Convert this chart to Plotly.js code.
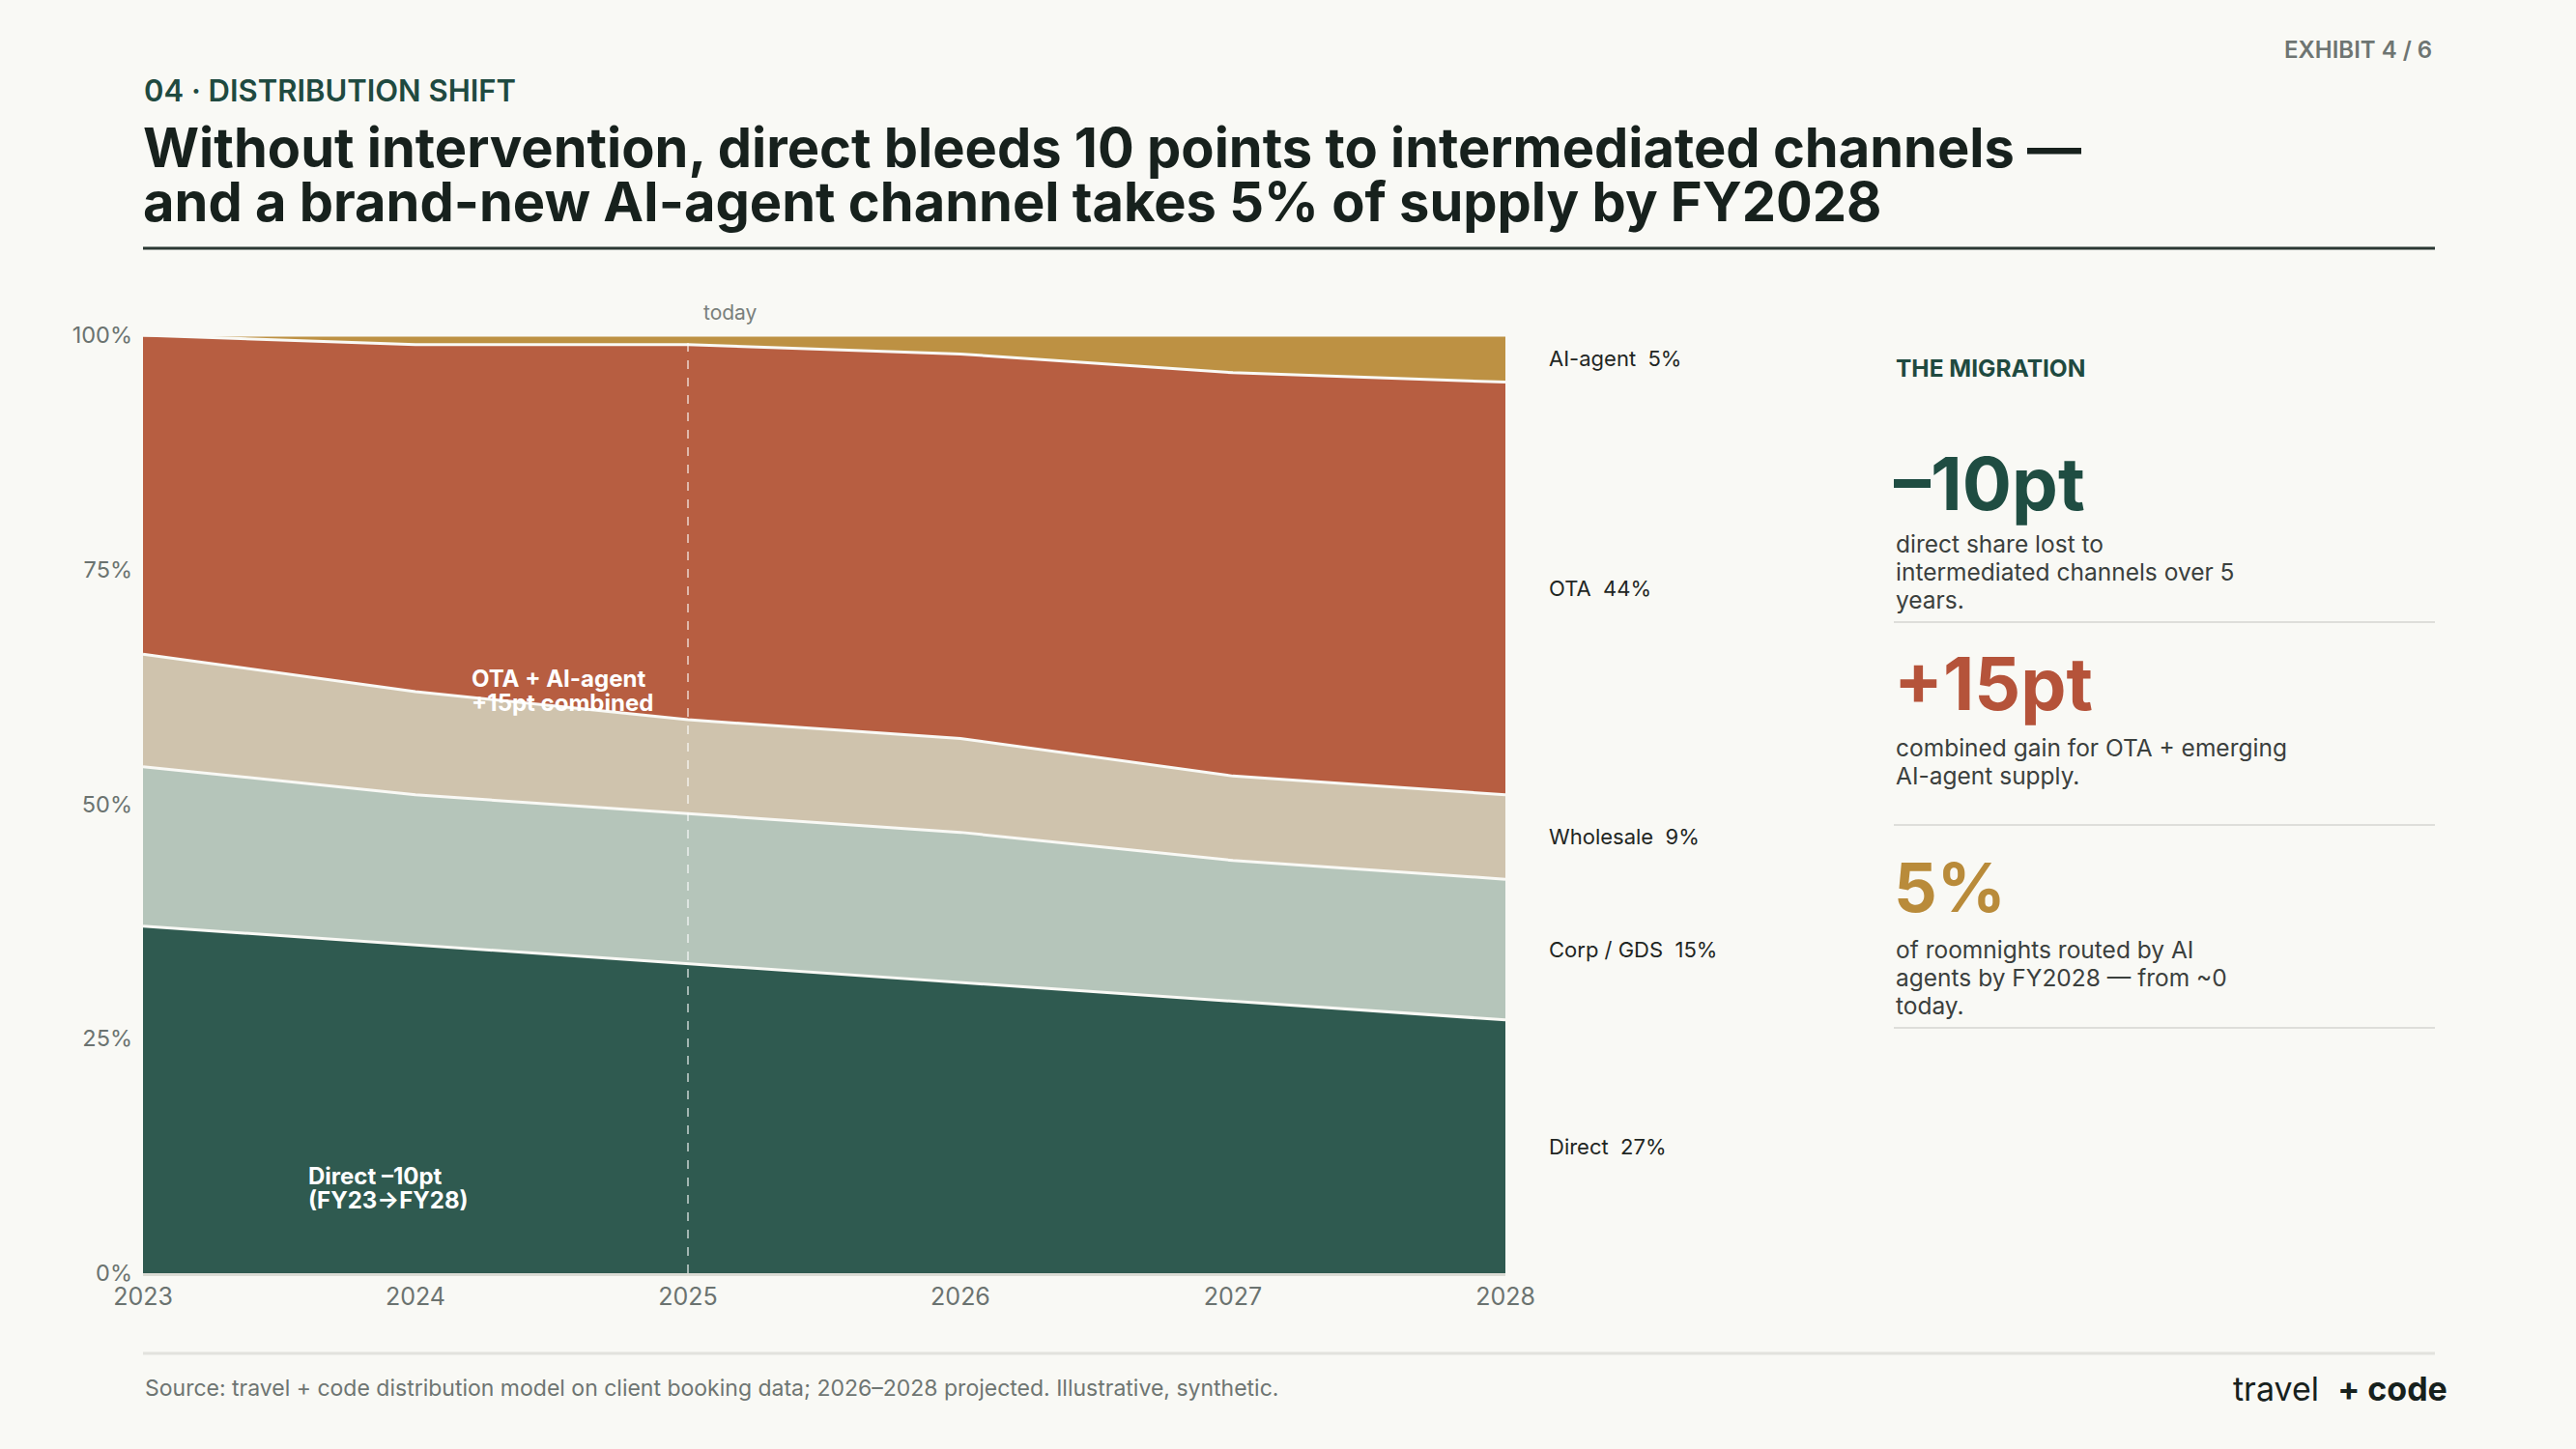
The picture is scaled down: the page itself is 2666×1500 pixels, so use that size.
<!DOCTYPE html>
<html>
<head>
<meta charset="utf-8">
<script src="https://cdn.plot.ly/plotly-3.0.1.min.js"></script>
<style>
  html, body { margin: 0; padding: 0; background: #f9f9f5; }
  #chart { width: 2666px; height: 1500px; }
</style>
</head>
<body>
<div id="chart"></div>
<script>
// Channel mix of roomnights, FY2023–FY2028 (share of total, %)
const years = [2023, 2024, 2025, 2026, 2027, 2028];
const direct    = [37, 35, 33, 31, 29, 27];
const corpGds   = [17, 16, 16, 16, 15, 15];
const wholesale = [12, 11, 10, 10, 9, 9];
const ota       = [34, 37, 40, 41, 43, 44];
const aiAgent   = [0, 1, 1, 2, 4, 5];

const seriesNames  = ['Direct', 'Corp / GDS', 'Wholesale', 'OTA', 'AI-agent'];
const seriesValues = [direct, corpGds, wholesale, ota, aiAgent];
const seriesColors = ['#2f5a50', '#b5c5ba', '#cfc3ad', '#b75e41', '#bd9143'];

const yTickVals = [0, 25, 50, 75, 100];
const yTickText = ['0%', '25%', '50%', '75%', '100%'];
const todayYear = 2025;

const W = 2666, H = 1500;
const BG = '#f9f9f5';
const FONT = 'Inter, "Noto Sans", sans-serif';
const px = x => x / W;
const py = y => 1 - y / H;

// plot area in pixels
const plotL = 148, plotR = 1558, plotT = 347, plotB = 1318;

const traces = seriesNames.map((name, i) => ({
  type: 'scatter',
  mode: 'lines',
  name: name,
  x: years,
  y: seriesValues[i],
  stackgroup: 'share',
  line: { color: BG, width: 3, shape: 'linear' },
  fillcolor: seriesColors[i],
  hoverinfo: 'skip'
}));

const last = years.length - 1;
const endLabels = [];
let base = 0;
seriesNames.forEach((name, i) => {
  const v = seriesValues[i][last];
  endLabels.push({
    xref: 'paper', yref: 'y',
    x: px(1601), y: base + v / 2,
    xanchor: 'left', yanchor: 'middle',
    text: name + '\u00a0 ' + v + '%',
    showarrow: false,
    font: { family: FONT, size: 22, color: '#1f2623' }
  });
  base += v;
});

function txt(x, y, text, size, color, weight, anchor) {
  return {
    xref: 'paper', yref: 'paper',
    x: px(x), y: py(y),
    xanchor: anchor || 'left', yanchor: 'middle',
    text: text, showarrow: false,
    font: { family: FONT, size: size, color: color, weight: weight || 400 }
  };
}

const annotations = [
  txt(2519, 51, 'EXHIBIT 4 / 6', 24, '#6e7572', 600, 'right'),
  txt(147, 94, '04 · DISTRIBUTION SHIFT', 31, '#1f4a40', 600),
  txt(146, 153, 'Without intervention, direct bleeds 10 points to intermediated channels —', 56, '#17211d', 700),
  txt(146, 209, 'and a brand-new AI-agent channel takes 5% of supply by FY2028', 56, '#17211d', 700),

  // today marker label
  { xref: 'x', yref: 'paper', x: todayYear, y: py(324), xanchor: 'left', yanchor: 'middle',
    xshift: 14, text: 'today', showarrow: false,
    font: { family: FONT, size: 21, color: '#7a807c' } },

  // in-chart callouts
  { xref: 'x', yref: 'y', x: 2024.2, y: 63.4, xanchor: 'left', yanchor: 'middle',
    text: 'OTA + AI-agent', showarrow: false,
    font: { family: FONT, size: 24, color: '#ffffff', weight: 700 } },
  { xref: 'x', yref: 'y', x: 2024.2, y: 60.8, xanchor: 'left', yanchor: 'middle',
    text: '+15pt combined', showarrow: false,
    font: { family: FONT, size: 24, color: '#ffffff', weight: 700 } },
  { xref: 'x', yref: 'y', x: 2023.6, y: 10.4, xanchor: 'left', yanchor: 'middle',
    text: 'Direct –10pt', showarrow: false,
    font: { family: FONT, size: 24, color: '#ffffff', weight: 700 } },
  { xref: 'x', yref: 'y', x: 2023.6, y: 7.8, xanchor: 'left', yanchor: 'middle',
    text: '(FY23→FY28)', showarrow: false,
    font: { family: FONT, size: 24, color: '#ffffff', weight: 700 } },

  // side panel
  txt(1960, 381, 'THE MIGRATION', 24.5, '#1f4a40', 700),
  txt(1958, 500, '–10pt', 76, '#1f4d42', 700),
  txt(1960, 563, 'direct share lost to', 24.5, '#3b403d'),
  txt(1960, 592, 'intermediated channels over 5', 24.5, '#3b403d'),
  txt(1960, 621, 'years.', 24.5, '#3b403d'),
  txt(1958, 707, '+15pt', 75, '#b5533a', 700),
  txt(1960, 774, 'combined gain for OTA + emerging', 24.5, '#3b403d'),
  txt(1960, 803, 'AI-agent supply.', 24.5, '#3b403d'),
  txt(1958, 918, '5%', 70, '#b98b3a', 700),
  txt(1960, 983, 'of roomnights routed by AI', 24.5, '#3b403d'),
  txt(1960, 1012, 'agents by FY2028 — from ~0', 24.5, '#3b403d'),
  txt(1960, 1041, 'today.', 24.5, '#3b403d'),

  // footer
  txt(148, 1437, 'Source: travel + code distribution model on client booking data; 2026–2028 projected. Illustrative, synthetic.', 23, '#6e7572'),
  txt(2535, 1437, 'travel\u00a0 <b>+ code</b>', 34, '#17211d', 400, 'right')
].concat(endLabels);

function hline(x0, x1, y, color, width) {
  return { type: 'line', xref: 'paper', yref: 'paper',
    x0: px(x0), x1: px(x1), y0: py(y), y1: py(y),
    line: { color: color, width: width } };
}

const shapes = [
  hline(148, 2520, 257, '#2b3833', 3),
  hline(1960, 2520, 644, '#dededa', 2),
  hline(1960, 2520, 854, '#dededa', 2),
  hline(1960, 2520, 1064, '#dededa', 2),
  hline(148, 2520, 1401, '#e2e2dd', 3),
  { type: 'line', xref: 'x', yref: 'y', x0: todayYear, x1: todayYear, y0: 0, y1: 100,
    line: { color: 'rgba(255,255,255,0.75)', width: 1.5, dash: 'dash' }, layer: 'above' }
];

const layout = {
  width: W, height: H,
  margin: { l: 0, r: 0, t: 0, b: 0 },
  paper_bgcolor: BG, plot_bgcolor: BG,
  showlegend: false,
  font: { family: FONT },
  xaxis: {
    domain: [px(plotL), px(plotR)],
    range: [2023, 2028],
    tickvals: years,
    ticktext: years.map(String),
    showgrid: false, zeroline: false,
    showline: true, linecolor: '#dcdcd5', linewidth: 3,
    ticks: '', ticklen: 0,
    tickfont: { family: FONT, size: 25, color: '#6b7370' },
    fixedrange: true
  },
  yaxis: {
    domain: [py(plotB), py(plotT)],
    range: [0, 100],
    tickvals: yTickVals,
    ticktext: yTickText,
    showgrid: false, zeroline: false, showline: false,
    ticks: '', ticklen: 0,
    ticklabelstandoff: 10,
    tickfont: { family: FONT, size: 23.5, color: '#6b7370' },
    fixedrange: true
  },
  annotations: annotations,
  shapes: shapes
};

Plotly.newPlot('chart', traces, layout, { staticPlot: true, displayModeBar: false });
</script>
</body>
</html>
